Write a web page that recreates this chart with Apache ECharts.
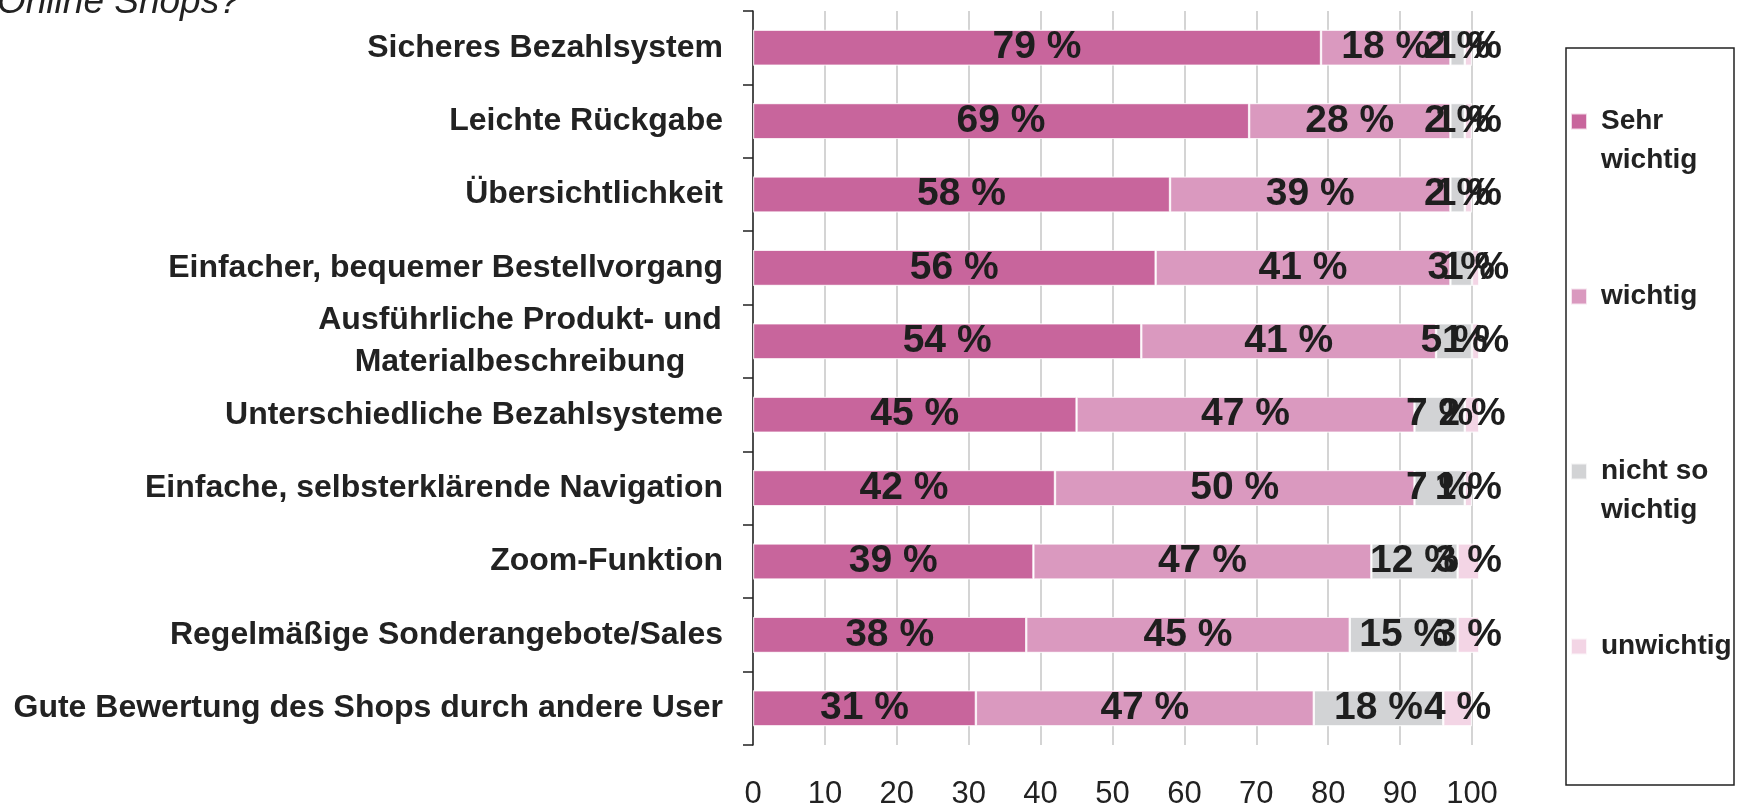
<!DOCTYPE html>
<html>
<head>
<meta charset="utf-8">
<script src="https://cdn.jsdelivr.net/npm/echarts@6/dist/echarts.min.js"></script>
<style>
  html, body { margin: 0; padding: 0; background: #ffffff; }
  #chart { width: 1746px; height: 806px; }
</style>
</head>
<body>
<div id="chart"></div>
<script>
// Survey: what matters most when shopping in online shops (shares in %)
const categories = [
  'Sicheres Bezahlsystem',
  'Leichte Rückgabe',
  'Übersichtlichkeit',
  'Einfacher, bequemer Bestellvorgang',
  'Ausführliche Produkt- und\nMaterialbeschreibung',
  'Unterschiedliche Bezahlsysteme',
  'Einfache, selbsterklärende Navigation',
  'Zoom-Funktion',
  'Regelmäßige Sonderangebote/Sales',
  'Gute Bewertung des Shops durch andere User'
];
const seriesNames = ['Sehr wichtig', 'wichtig', 'nicht so wichtig', 'unwichtig'];
const sehrWichtig    = [79, 69, 58, 56, 54, 45, 42, 39, 38, 31];
const wichtig        = [18, 28, 39, 41, 41, 47, 50, 47, 45, 47];
const nichtSoWichtig = [2, 2, 2, 3, 5, 7, 7, 12, 15, 18];
const unwichtig      = [1, 1, 1, 1, 1, 2, 1, 3, 3, 4];
const titleText = 'Online Shops?';

const FONT = '"Liberation Sans", Arial, Helvetica, sans-serif';
const INK = '#222222';
const colors = ['#C8659C', '#DA99BF', '#D2D3D5', '#F3D5E5'];
const values = [sehrWichtig, wichtig, nichtSoWichtig, unwichtig];

// Two-line legend entries: the leading blank line keeps the first
// text line level with the colour swatch.
const legendLabels = {
  'Sehr wichtig': '\nSehr\nwichtig',
  'nicht so wichtig': '\nnicht so\nwichtig'
};

const chart = echarts.init(document.getElementById('chart'));

const series = seriesNames.map((name, i) => ({
  name: name,
  type: 'bar',
  stack: 'total',
  barWidth: 36,
  clip: false,
  data: values[i],
  itemStyle: {
    color: colors[i],
    borderColor: 'rgba(255,255,255,0.75)',
    borderWidth: 1.2
  },
  label: {
    show: true,
    position: 'inside',
    formatter: '{c} %',
    fontFamily: FONT,
    fontSize: 39,
    fontWeight: 'bold',
    color: '#1e1e1e',
    textBorderWidth: 0
  },
  emphasis: { disabled: true }
}));

chart.setOption({
  animation: false,
  textStyle: { fontFamily: FONT },
  grid: {
    left: 753, right: 274, top: 11, bottom: 61,
    containLabel: false,
    outerBoundsMode: 'none'
  },
  xAxis: {
    type: 'value',
    min: 0,
    max: 100,
    interval: 10,
    axisLine: { show: false },
    axisTick: { show: false },
    splitLine: { show: true, lineStyle: { color: '#D4D4D4', width: 2 } },
    axisLabel: {
      margin: 34,
      fontFamily: FONT,
      fontSize: 31,
      color: INK
    }
  },
  yAxis: {
    type: 'category',
    inverse: true,
    data: categories,
    axisLine: { show: true, lineStyle: { color: INK, width: 1.5 } },
    axisTick: { show: true, length: 10, lineStyle: { color: INK, width: 1.5 } },
    axisLabel: {
      margin: 30,
      fontFamily: FONT,
      fontSize: 32,
      fontWeight: 'bold',
      color: INK,
      formatter: function (v) {
        return v.indexOf('\n') >= 0 ? '{wrap|' + v + '}' : v;
      },
      rich: {
        wrap: {
          width: 406,
          align: 'center',
          lineHeight: 42,
          fontFamily: FONT,
          fontSize: 32,
          fontWeight: 'bold',
          color: INK
        }
      }
    }
  },
  legend: {
    orient: 'vertical',
    left: 1570,
    top: 63,
    padding: 0,
    itemWidth: 16,
    itemHeight: 16,
    itemGap: 97,
    icon: 'rect',
    selectedMode: false,
    data: seriesNames,
    formatter: function (n) { return legendLabels[n] || n; },
    textStyle: {
      fontFamily: FONT,
      fontSize: 28,
      fontWeight: 'bold',
      lineHeight: 39,
      padding: [0, 0, 0, 9],
      color: INK
    }
  },
  graphic: [
    {
      type: 'rect',
      shape: { x: 1566, y: 48, width: 168, height: 737 },
      style: { fill: 'none', stroke: INK, lineWidth: 1.5 },
      silent: true
    },
    {
      type: 'text',
      x: -3,
      y: 21,
      style: {
        text: titleText,
        fontFamily: FONT,
        fontSize: 37,
        fontStyle: 'italic',
        fill: INK,
        verticalAlign: 'bottom'
      },
      silent: true
    }
  ],
  series: series
});
</script>
</body>
</html>
